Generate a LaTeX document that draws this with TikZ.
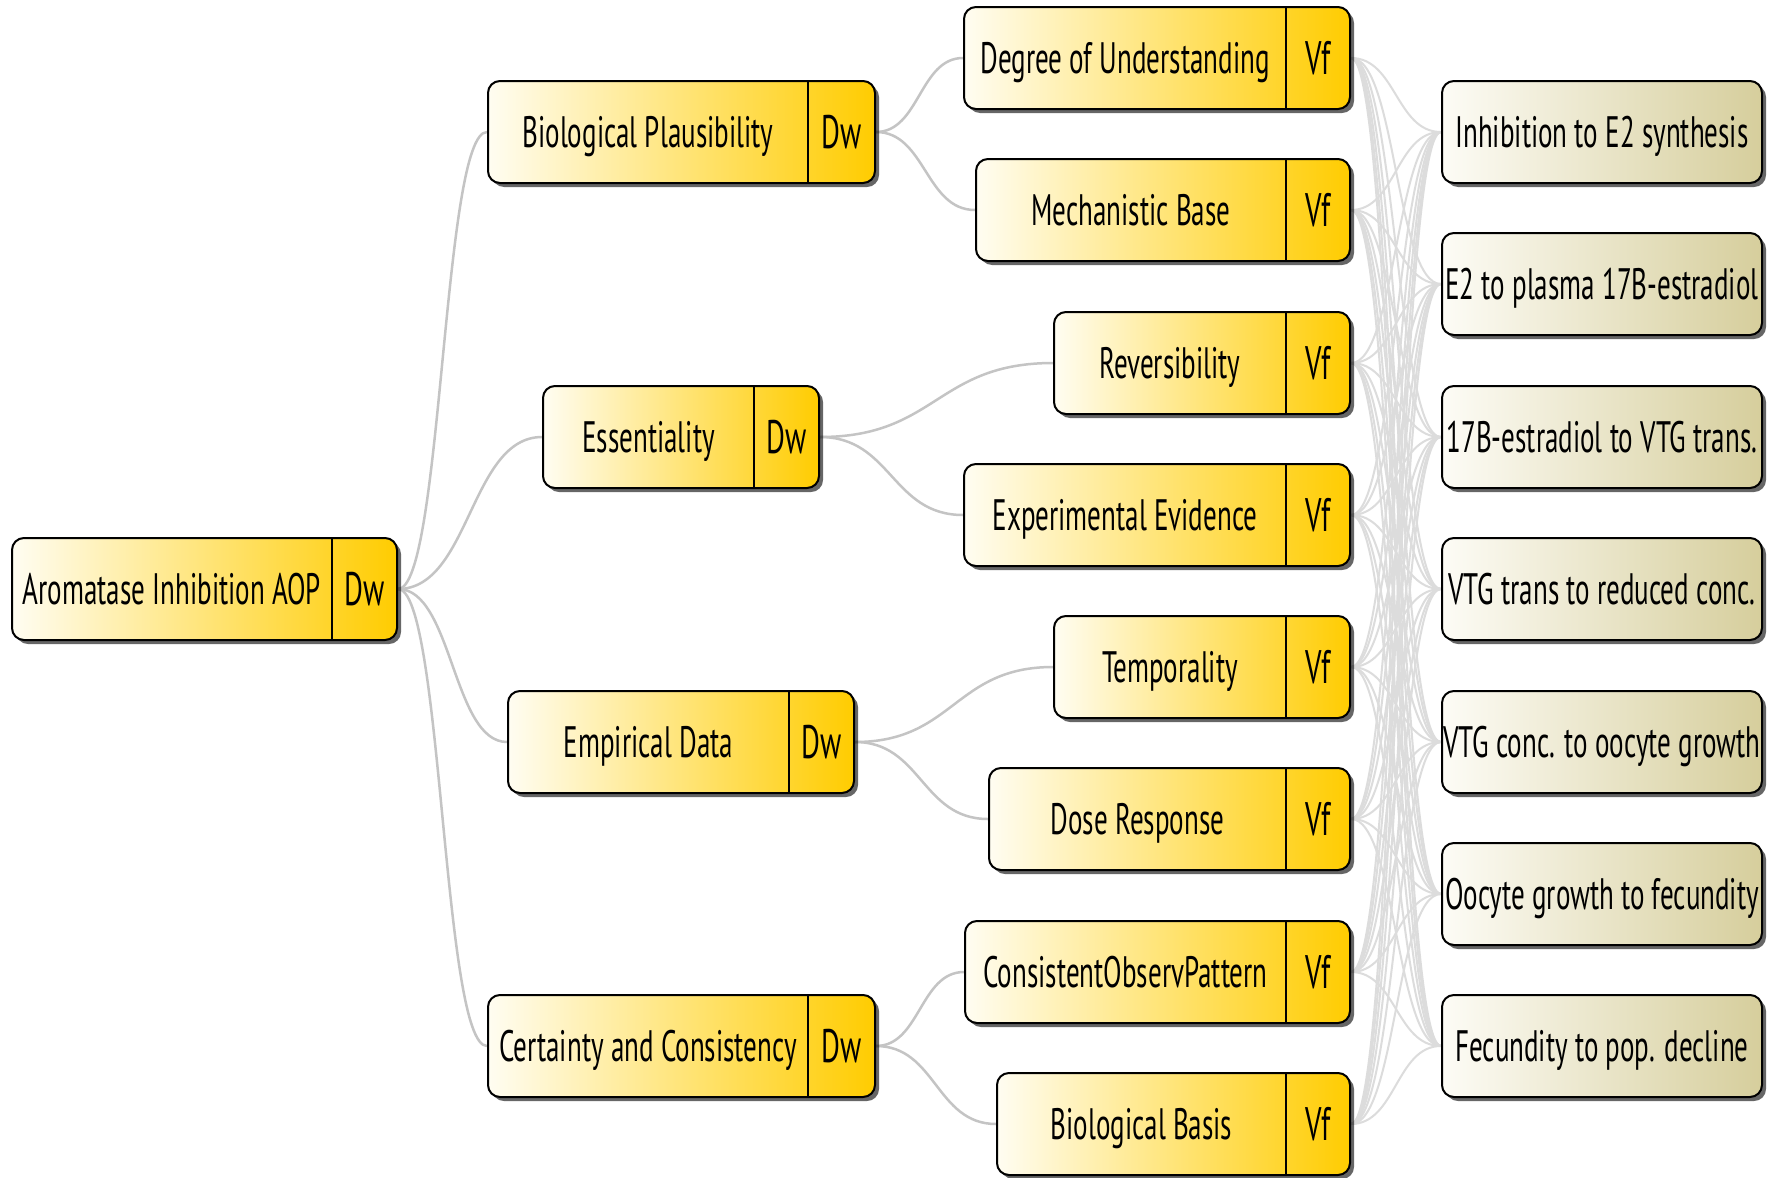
\documentclass[tikz,border=0pt]{standalone}
\usepackage{fontspec}
\setmainfont{PT Sans}[FakeStretch=0.615]
\usetikzlibrary{shadows,calc}
\pgfdeclarelayer{bg}\pgfsetlayers{bg,main}
\definecolor{gold}{HTML}{FFCC00}
\definecolor{paleY}{HTML}{FFFDF2}
\definecolor{khaki}{HTML}{D6CE9C}
\definecolor{paleK}{HTML}{FDFCF6}
\definecolor{edgeA}{HTML}{C4C4C4}
\definecolor{edgeB}{HTML}{DCDCDC}
\tikzset{
  boxbase/.style={draw=black, line width=2pt, rounded corners=12pt, minimum height=102pt, inner sep=0pt,
    drop shadow={shadow xshift=4pt, shadow yshift=-4pt, opacity=0.6, fill=black}},
  goldbox/.style={boxbase, left color=paleY, right color=gold},
  khakibox/.style={boxbase, left color=paleK, right color=khaki},
  lbl/.style={anchor=base, inner sep=0pt, font=\fontsize{44}{44}\selectfont},
  tag/.style={anchor=base, inner sep=0pt, font=\fontsize{47}{47}\selectfont},
  divline/.style={line width=1.6pt},
  treeedge/.style={draw=edgeA, line width=2.5pt},
  meshedge/.style={draw=edgeB, line width=2pt},
}
\newcommand\gbox[7]{%
  \node[goldbox, minimum width={(#3-#2)*1pt}] (#1) at ({(#2+#3)/2},#5) {};
  \draw[divline] (#4,{#5-51}) -- (#4,{#5+51});
  \node[lbl] (#1t) at ({(#2+#4)/2},{#5+15}) {#6};
  \node[tag] (#1g) at ({(#4+#3)/2},{#5+16}) {#7};
}
\newcommand\kbox[3]{%
  \node[khakibox, minimum width=320pt] (#1) at (1602,#2) {};
  \node[lbl] (#1t) at (1602,{#2+15}) {#3};
}
\newcommand\conn[3]{%
  \path (#2.east) -- coordinate[pos=.5] (cm) (#3.west);
  \draw[#1] (#2.east) .. controls (cm |- #2.east) and (cm |- #3.west) .. (#3.west);
}
\begin{document}
\begin{tikzpicture}[x=1pt,y=-1pt]
\useasboundingbox (0,0) rectangle (1773,1178);
% root
\gbox{root}{12}{397}{332}{589}{Aromatase Inhibition AOP}{Dw}
% level 1
\gbox{bp}{488}{875}{808}{132}{Biological Plausibility}{Dw}
\gbox{es}{543}{819}{754}{437}{Essentiality}{Dw}
\gbox{ed}{508}{854}{789}{742}{Empirical Data}{Dw}
\gbox{cc}{488}{875}{808}{1046}{Certainty and Consistency}{Dw}
% level 2
\gbox{v1}{964}{1350}{1286}{58}{Degree of Understanding}{Vf}
\gbox{v2}{976}{1350}{1286}{210}{Mechanistic Base}{Vf}
\gbox{v3}{1054}{1350}{1286}{363}{Reversibility}{Vf}
\gbox{v4}{964}{1350}{1286}{515}{Experimental Evidence}{Vf}
\gbox{v5}{1054}{1350}{1286}{667}{Temporality}{Vf}
\gbox{v6}{989}{1350}{1286}{819}{Dose Response}{Vf}
\gbox{v7}{965}{1350}{1286}{972}{ConsistentObservPattern}{Vf}
\gbox{v8}{997}{1350}{1286}{1124}{Biological Basis}{Vf}
% level 3
\kbox{r1}{132}{Inhibition to E2 synthesis}
\kbox{r2}{284}{E2 to plasma 17B-estradiol}
\kbox{r3}{437}{17B-estradiol to VTG trans.}
\kbox{r4}{589}{VTG trans to reduced conc.}
\kbox{r5}{742}{VTG conc. to oocyte growth}
\kbox{r6}{894}{Oocyte growth to fecundity}
\kbox{r7}{1046}{Fecundity to pop. decline}
\begin{pgfonlayer}{bg}
  \fill[white] (0,0) rectangle (1773,1178);
  \foreach \c in {bp,es,ed,cc} {\conn{treeedge}{root}{\c}}
  \conn{treeedge}{bp}{v1}\conn{treeedge}{bp}{v2}
  \conn{treeedge}{es}{v3}\conn{treeedge}{es}{v4}
  \conn{treeedge}{ed}{v5}\conn{treeedge}{ed}{v6}
  \conn{treeedge}{cc}{v7}\conn{treeedge}{cc}{v8}
  \foreach \a in {1,...,8} {\foreach \b in {1,...,7} {\conn{meshedge}{v\a}{r\b}}}
\end{pgfonlayer}
\end{tikzpicture}
\end{document}
